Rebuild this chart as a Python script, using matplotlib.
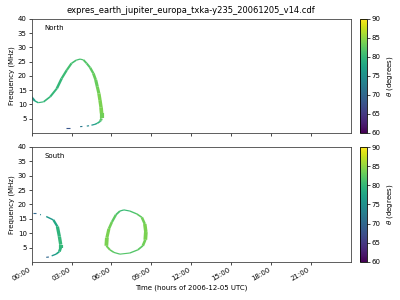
#!/usr/bin/env python3
"""ExPRES Jupiter-Europa emission theta map, North and South sources."""

import numpy as np
import matplotlib.pyplot as plt
from matplotlib.collections import LineCollection

TITLE = "expres_earth_jupiter_europa_txka-y235_20061205_v14.cdf"
hour_ticks = [0, 3, 6, 9, 12, 15, 18, 21]
hour_labels = ["00:00", "03:00", "06:00", "09:00", "12:00", "15:00", "18:00", "21:00"]
freq_ticks = [5, 10, 15, 20, 25, 30, 35, 40]
cbar_ticks = [60, 65, 70, 75, 80, 85, 90]

# North source (time in hours, frequency in MHz, theta in degrees); NaN = gap
north_time = [0.0, 0.25, 0.5, 0.9, 1.4, 1.9, 2.26, 2.64, 3.0, 3.35, 3.64, 3.9, 4.14,
              4.4, 4.64, 4.82, 4.94, 5.06, 5.14, 5.22, 5.26, 5.26, 5.2, 5.14, 4.95, 4.76,
              4.5, np.nan, 4.32, 4.15, np.nan, 3.82, 3.65, np.nan, 2.9, 2.62]
north_freq = [12.6, 11.2, 10.6, 10.9, 12.7, 15.6, 19.1, 22.0, 24.4, 25.5, 25.9, 25.6, 24.4,
              22.9, 20.9, 18.6, 16.2, 13.8, 11.5, 9.0, 6.9, 5.1, 4.4, 4.0, 3.4, 3.0,
              2.7, np.nan, 2.5, 2.4, np.nan, 2.25, 2.2, np.nan, 1.75, 1.75]
north_theta = [75, 78, 80, 80, 80, 80, 80, 81, 81, 81, 81, 82, 82,
               82, 83, 83, 83, 84, 84, 84, 84, 83, 82, 80, 79, 77,
               75, np.nan, 74, 74, np.nan, 72, 72, np.nan, 68, 68]

# South source, first arc
south1_time = [0.14, 0.34, np.nan, 0.64, 0.7, np.nan, 1.1, 1.64, 1.94, 2.09, 2.19, 2.19, 2.09,
               1.84, 1.51, np.nan, 1.3, 1.1, np.nan, 0.0, 0.05]
south1_freq = [17.0, 17.0, np.nan, 16.5, 16.4, np.nan, 15.8, 14.6, 12.3, 8.8, 6.0, 5.0, 3.6,
               2.7, 2.1, np.nan, 1.7, 1.6, np.nan, 1.3, 1.3]
south1_theta = [70, 70, np.nan, 73, 73, np.nan, 75, 77, 79, 80, 80, 80, 79,
                77, 75, np.nan, 70, 70, np.nan, 62, 62]

# South source, closed loop
south2_time = [6.94, 7.39, 7.91, 8.29, 8.51, 8.59, 8.55, 8.36, 7.99, 7.39, 6.64, 6.19,
               5.89, 5.62, 5.66, 5.81, 6.04, 6.34, 6.64, 6.94]
south2_freq = [18.1, 17.7, 16.7, 15.5, 13.2, 10.4, 7.7, 5.6, 4.2, 3.1, 2.7, 3.3,
               4.2, 5.6, 8.4, 11.5, 13.9, 16.4, 17.7, 18.1]
south2_theta = [80, 81, 82, 83, 84, 84, 84, 83, 82, 82, 82, 82,
                83, 84, 84, 84, 83, 82, 81, 80]

cmap = plt.get_cmap("viridis")
norm = plt.Normalize(60, 90)


def draw_track(ax, t, f, th):
    t = np.asarray(t, float)
    f = np.asarray(f, float)
    th = np.asarray(th, float)
    segs, cols, widths = [], [], []
    for i in range(len(t) - 1):
        if np.isnan(t[i]) or np.isnan(t[i + 1]):
            continue
        segs.append([(t[i], f[i]), (t[i + 1], f[i + 1])])
        cols.append(cmap(norm(0.5 * (th[i] + th[i + 1]))))
        # steep parts look thicker in the original grid
        dt = abs(t[i + 1] - t[i]) * (320 / 24.0)
        df = abs(f[i + 1] - f[i]) * (114 / 40.0)
        steep = df / (dt + df + 1e-9)
        widths.append(0.8 + 2.2 * steep ** 2)
    lc = LineCollection(segs, colors=cols, linewidths=widths, capstyle="butt")
    ax.add_collection(lc)


fig = plt.figure(figsize=(4, 3), dpi=100)
ax1 = fig.add_axes([0.079, 0.557, 0.798, 0.38])
ax2 = fig.add_axes([0.079, 0.127, 0.798, 0.383])
cax1 = fig.add_axes([0.9, 0.557, 0.0175, 0.38])
cax2 = fig.add_axes([0.9, 0.127, 0.0175, 0.383])

draw_track(ax1, north_time, north_freq, north_theta)
draw_track(ax2, south1_time, south1_freq, south1_theta)
draw_track(ax2, south2_time, south2_freq, south2_theta)

sm = plt.cm.ScalarMappable(norm=norm, cmap=cmap)
for ax, cax, name in [(ax1, cax1, "North"), (ax2, cax2, "South")]:
    ax.set_xlim(0, 24)
    ax.set_ylim(0, 40)
    ax.set_xticks(hour_ticks)
    ax.set_yticks(freq_ticks)
    ax.tick_params(labelsize=5, length=2, width=0.5, pad=1.5)
    for sp in ax.spines.values():
        sp.set_linewidth(0.6)
        sp.set_color("#444444")
    ax.set_ylabel("Frequency (MHz)", fontsize=5, labelpad=2)
    ax.text(0.04, 0.9, name, transform=ax.transAxes, fontsize=5)
    cb = fig.colorbar(sm, cax=cax, ticks=cbar_ticks)
    cb.ax.tick_params(labelsize=5, length=2, width=0.5, pad=1.5)
    cb.outline.set_linewidth(0.6)
    cb.set_label(r"$\theta$ (degrees)", fontsize=5, rotation=90, labelpad=3)

ax1.set_xticklabels([])
ax2.set_xticklabels(hour_labels, rotation=30, ha="right")
ax2.set_xlabel("Time (hours of 2006-12-05 UTC)", fontsize=5, labelpad=2)
ax1.set_title(TITLE, fontsize=6, pad=4)

fig.savefig("out.png", dpi=100)
